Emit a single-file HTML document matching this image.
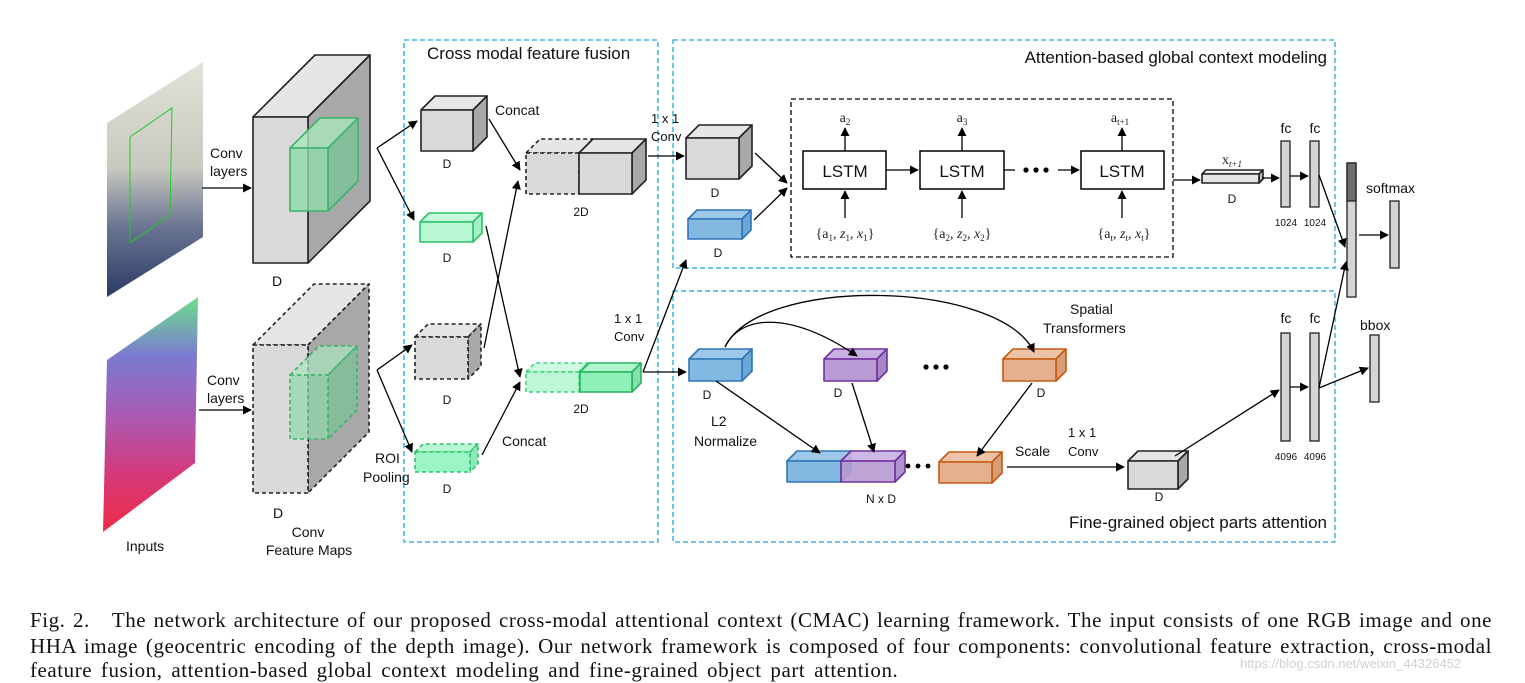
<!DOCTYPE html>
<html><head><meta charset="utf-8"><style>
html,body{margin:0;padding:0;background:#fff;width:1525px;height:683px;overflow:hidden}
svg{position:absolute;left:0;top:0}
.s{font-family:"Liberation Sans",sans-serif;fill:#111}
.cap{position:absolute;left:30px;width:1462px;font-family:"Liberation Serif",serif;font-size:21px;letter-spacing:0.55px;color:#111;text-align:justify;text-align-last:justify;white-space:nowrap;line-height:20px}
</style></head><body>
<svg id="g" width="1525" height="683" viewBox="0 0 1525 683" xmlns="http://www.w3.org/2000/svg">
<defs>
<marker id="a" viewBox="0 0 10 10" refX="9" refY="5" markerWidth="7" markerHeight="7" orient="auto-start-reverse"><path d="M0,0 L10,5 L0,10 z" fill="#000"/></marker>
<linearGradient id="rgb" x1="0" y1="0" x2="0" y2="1"><stop offset="0" stop-color="#dfe3d8"/><stop offset="0.45" stop-color="#c9c9c0"/><stop offset="0.7" stop-color="#6a7592"/><stop offset="1" stop-color="#2b3a66"/></linearGradient>
<linearGradient id="hha" x1="0" y1="0" x2="0" y2="1"><stop offset="0" stop-color="#6de08a"/><stop offset="0.25" stop-color="#7a7bd0"/><stop offset="0.5" stop-color="#a85bb5"/><stop offset="0.75" stop-color="#d43a7a"/><stop offset="1" stop-color="#ee2b45"/></linearGradient>
</defs>
<polygon points="107,123 203,62 203,237 107,297" fill="url(#rgb)"/>
<polygon points="130,137 172,108 170,215 130,243" fill="none" stroke="#22cc22" stroke-width="1"/>
<polygon points="107,360 198,297 195,463 103,532" fill="url(#hha)"/>
<g fill="none" stroke="#1ea8e0" stroke-width="1.3" stroke-dasharray="5,3">
<rect x="404" y="40" width="254" height="502"/>
<rect x="673" y="40" width="662" height="228"/>
<rect x="673" y="291" width="662" height="251"/>
</g>
<rect x="791" y="99" width="382" height="158" fill="none" stroke="#000" stroke-width="1.3" stroke-dasharray="5,3"/>
<g id="cubes"></g>
<g fill="#fff" stroke="#000" stroke-width="1.5">
<rect x="803" y="151" width="83" height="38"/><rect x="920" y="151" width="84" height="38"/><rect x="1081" y="151" width="83" height="38"/>
</g>
<g class="s" font-size="17" text-anchor="middle"><text x="845" y="177">LSTM</text><text x="962" y="177">LSTM</text><text x="1122" y="177">LSTM</text></g>
<g fill="#d4d4d4" stroke="#222" stroke-width="1.3">
<rect x="1281" y="141" width="9" height="66"/><rect x="1310" y="141" width="9" height="66"/>
<rect x="1347" y="163" width="9" height="134"/><rect x="1390" y="201" width="9" height="67"/>
<rect x="1281" y="333" width="9" height="108"/><rect x="1310" y="333" width="9" height="108"/>
<rect x="1370" y="335" width="9" height="67"/>
</g>
<rect x="1347" y="163" width="9" height="38" fill="#6e6e6e" stroke="#222" stroke-width="1.3"/>
<g fill="none" stroke="#000" stroke-width="1.3" marker-end="url(#a)">
<path d="M202,188 L251,188"/><path d="M199,410 L251,410"/>
<path d="M377,148 L417,121"/><path d="M377,148 L414,220"/>
<path d="M377,370 L412,345"/><path d="M377,370 L412,452"/>
<path d="M489,119 L520,170"/><path d="M486,226 L520,377"/>
<path d="M484,348 L518,181"/><path d="M482,455 L520,382"/>
<path d="M648,156 L684,156"/><path d="M643,372 L686,260"/><path d="M643,372 L686,372"/>
<path d="M755,153 L787,183"/><path d="M754,220 L787,188"/>
<path d="M886,170 L918,170"/><path d="M1004,170 L1015,170" marker-end="none"/><path d="M1058,170 L1079,170"/>
<path d="M845,151 L845,128"/><path d="M962,151 L962,128"/><path d="M1122,151 L1122,128"/>
<path d="M845,218 L845,191"/><path d="M962,218 L962,191"/><path d="M1122,218 L1122,191"/>
<path d="M1173,180 L1200,180"/><path d="M1262,178 L1279,178"/><path d="M1290,176 L1308,176"/>
<path d="M1319,175 L1345,247"/><path d="M1359,235 L1388,235"/>
<path d="M1319,388 L1346,262"/><path d="M1290,387 L1308,387"/><path d="M1319,388 L1368,368"/>
<path d="M1175,456 L1279,390"/>
<path d="M725,347 C740,315 790,310 857,356"/><path d="M725,347 C760,275 1000,280 1034,352"/>
<path d="M716,381 L820,453"/><path d="M852,383 L874,452"/><path d="M1032,383 L977,456"/>
<path d="M1007,467 L1124,467"/>
</g>
<g fill="#000"><circle cx="1026" cy="170" r="2.6"/><circle cx="1036" cy="170" r="2.6"/><circle cx="1046" cy="170" r="2.6"/>
<circle cx="926" cy="367" r="2.6"/><circle cx="936" cy="367" r="2.6"/><circle cx="946" cy="367" r="2.6"/>
<circle cx="908" cy="466" r="2.4"/><circle cx="918" cy="466" r="2.4"/><circle cx="928" cy="466" r="2.4"/></g>
<g class="s" font-size="14">
<text x="427" y="59" font-size="17">Cross modal feature fusion</text>
<text x="1327" y="63" font-size="17" text-anchor="end">Attention-based global context modeling</text>
<text x="1327" y="528" font-size="17" text-anchor="end">Fine-grained object parts attention</text>
<text x="210" y="158">Conv</text><text x="210" y="176">layers</text>
<text x="207" y="385">Conv</text><text x="207" y="403">layers</text>
<text x="277" y="286" text-anchor="middle">D</text><text x="278" y="518" text-anchor="middle">D</text>
<text x="308" y="537" text-anchor="middle">Conv</text><text x="309" y="555" text-anchor="middle">Feature Maps</text>
<text x="126" y="551">Inputs</text>
<text x="375" y="463">ROI</text><text x="363" y="482">Pooling</text>
<text x="495" y="115">Concat</text><text x="502" y="446">Concat</text>
<g font-size="12" text-anchor="middle"><text x="447" y="168">D</text><text x="447" y="262">D</text><text x="447" y="404">D</text><text x="447" y="493">D</text>
<text x="581" y="216">2D</text><text x="581" y="413">2D</text>
<text x="715" y="197">D</text><text x="718" y="257">D</text><text x="1232" y="203">D</text>
<text x="707" y="399">D</text><text x="838" y="397">D</text><text x="1041" y="397">D</text><text x="1159" y="501">D</text>
<text x="881" y="503">N x D</text></g>
<text x="651" y="123" font-size="13">1 x 1</text><text x="651" y="141" font-size="13">Conv</text>
<text x="614" y="323" font-size="13">1 x 1</text><text x="614" y="341" font-size="13">Conv</text>
<text x="1068" y="437" font-size="13">1 x 1</text><text x="1068" y="456" font-size="13">Conv</text>
<text x="1015" y="456">Scale</text>
<text x="1070" y="314">Spatial</text><text x="1043" y="333">Transformers</text>
<text x="711" y="426">L2</text><text x="694" y="446">Normalize</text>
<text x="1286" y="133" text-anchor="middle">fc</text><text x="1315" y="133" text-anchor="middle">fc</text>
<text x="1286" y="323" text-anchor="middle">fc</text><text x="1315" y="323" text-anchor="middle">fc</text>
<text x="1366" y="193">softmax</text><text x="1360" y="330">bbox</text>
<g font-size="10" text-anchor="middle"><text x="1286" y="226">1024</text><text x="1315" y="226">1024</text><text x="1286" y="460">4096</text><text x="1315" y="460">4096</text></g>
</g>
<g font-family="Liberation Serif,serif" font-size="14" fill="#222" text-anchor="middle">
<text x="845" y="122">a<tspan font-size="9" dy="3">2</tspan></text>
<text x="962" y="122">a<tspan font-size="9" dy="3">3</tspan></text>
<text x="1120" y="122">a<tspan font-size="9" dy="3">t+1</tspan></text>
<text x="1232" y="164">x<tspan font-size="9" dy="3" font-style="italic">t+1</tspan></text>
<text x="845" y="238">{a<tspan font-size="9" dy="3">1</tspan><tspan dy="-3">, </tspan><tspan font-style="italic">z</tspan><tspan font-size="9" dy="3">1</tspan><tspan dy="-3">, </tspan><tspan font-style="italic">x</tspan><tspan font-size="9" dy="3">1</tspan><tspan dy="-3">}</tspan></text>
<text x="962" y="238">{a<tspan font-size="9" dy="3">2</tspan><tspan dy="-3">, </tspan><tspan font-style="italic">z</tspan><tspan font-size="9" dy="3">2</tspan><tspan dy="-3">, </tspan><tspan font-style="italic">x</tspan><tspan font-size="9" dy="3">2</tspan><tspan dy="-3">}</tspan></text>
<text x="1124" y="238">{a<tspan font-size="9" dy="3">t</tspan><tspan dy="-3">, </tspan><tspan font-style="italic">z</tspan><tspan font-size="9" dy="3">t</tspan><tspan dy="-3">, </tspan><tspan font-style="italic">x</tspan><tspan font-size="9" dy="3">t</tspan><tspan dy="-3">}</tspan></text>
</g>
<text x="1240" y="668" font-family="Liberation Sans,sans-serif" font-size="13" fill="#d0d0d0">https://blog.csdn.net/weixin_44326452</text>
</svg>
<div class="cap" style="top:610px">Fig. 2.&nbsp;&nbsp; The network architecture of our proposed cross-modal attentional context (CMAC) learning framework. The input consists of one RGB image and one</div>
<div class="cap" style="top:636px">HHA image (geocentric encoding of the depth image). Our network framework is composed of four components: convolutional feature extraction, cross-modal</div>
<div class="cap" style="top:660px;text-align-last:left;word-spacing:3px">feature fusion, attention-based global context modeling and fine-grained object part attention.</div>
<script>
var g=document.getElementById('cubes'),NS='http://www.w3.org/2000/svg';
function el(t,a){var e=document.createElementNS(NS,t);for(var k in a)e.setAttribute(k,a[k]);g.appendChild(e);return e;}
function cube(x,y,w,h,d,f,t,s,st,dash,op){
 var o={stroke:st,'stroke-width':1.6,'stroke-linejoin':'round'};if(dash)o['stroke-dasharray']='4,3';if(op)o['fill-opacity']=op;
 var p=function(pts,c){var a=Object.assign({},o);a.points=pts;a.fill=c;el('polygon',a);};
 p(x+','+y+' '+(x+d)+','+(y-d)+' '+(x+w+d)+','+(y-d)+' '+(x+w)+','+y,t);
 p((x+w)+','+y+' '+(x+w+d)+','+(y-d)+' '+(x+w+d)+','+(y+h-d)+' '+(x+w)+','+(y+h),s);
 p(x+','+y+' '+(x+w)+','+y+' '+(x+w)+','+(y+h)+' '+x+','+(y+h),f);
}
var G=['#d9d9d9','#e6e6e6','#a8a8a8','#222'];
cube(253,117,55,146,62,G[0],G[1],G[2],G[3]);
cube(290,148,38,63,30,'#8fd9a8','#a8e6bc','#79c496','#3cb46e',false,0.8);
cube(253,345,55,148,61,G[0],G[1],G[2],G[3],true);
cube(290,375,38,64,29,'#8fd9a8','#a8e6bc','#79c496','#3cb46e',true,0.7);
cube(421,110,52,41,14,G[0],G[1],G[2],G[3]);
cube(420,222,53,20,9,'#b8f7d4','#c8fadd','#a6eec4','#2cc36b');
cube(415,337,53,42,13,G[0],G[1],G[2],G[3],true);
cube(415,452,55,20,8,'#9cf5c4','#b8f7d4','#8fe9b6','#2cc36b',true);
cube(526,153,53,41,14,G[0],G[1],G[2],G[3],true);
cube(579,153,53,41,14,G[0],G[1],G[2],G[3]);
cube(526,372,53,20,9,'#bdf7d8','#cdfae2','#a6eec4','#3bd27c',true);
cube(580,372,52,20,9,'#8ff0b8','#b0f5cc','#86e0ae','#22b55e');
cube(686,138,53,41,13,G[0],G[1],G[2],G[3]);
cube(688,219,54,20,9,'#83b9e0','#9dc8e8','#6aa6d6','#2e75b6');
cube(1202,174,57,9,4,'#e6e6e6','#f0f0f0','#bbb','#222');
cube(689,359,53,22,10,'#83b9e0','#9dc8e8','#6aa6d6','#2e75b6');
cube(824,359,53,22,10,'#b79bd2','#c8b1e0','#a587c6','#7030a0');
cube(1003,359,53,22,10,'#e4b08f','#ecc3a7','#d89c77','#c55a11');
cube(787,461,54,21,10,'#83b9e0','#9dc8e8','#6aa6d6','#2e75b6');
cube(841,461,54,21,10,'#b79bd2','#c8b1e0','#a587c6','#7030a0',false,0.9);
cube(939,462,53,21,10,'#e4b08f','#ecc3a7','#d89c77','#c55a11');
cube(1128,461,50,28,10,G[0],G[1],G[2],G[3]);
</script>
</body></html>
